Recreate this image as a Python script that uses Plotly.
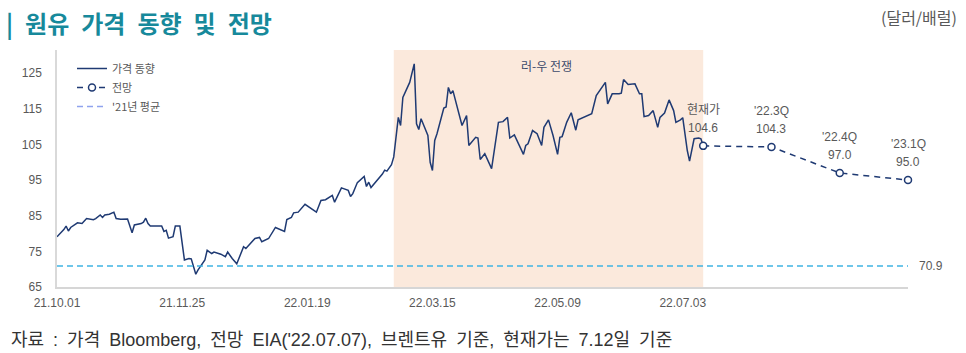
import plotly.graph_objects as go

# ---------------- data ----------------
price_dates = [
    "2021-10-01","2021-10-04","2021-10-05","2021-10-06","2021-10-07","2021-10-10","2021-10-12","2021-10-14",
    "2021-10-17","2021-10-18","2021-10-20","2021-10-21","2021-10-22","2021-10-24","2021-10-26","2021-10-27",
    "2021-10-29","2021-11-01","2021-11-03","2021-11-04","2021-11-07","2021-11-08","2021-11-09","2021-11-10",
    "2021-11-11","2021-11-14","2021-11-16","2021-11-17","2021-11-18","2021-11-19","2021-11-21","2021-11-22",
    "2021-11-24","2021-11-26","2021-11-28","2021-11-29","2021-12-01","2021-12-02","2021-12-03","2021-12-05",
    "2021-12-06","2021-12-08","2021-12-09","2021-12-12","2021-12-14","2021-12-15","2021-12-17","2021-12-19",
    "2021-12-22","2021-12-23","2021-12-27","2021-12-29","2021-12-30","2022-01-02","2022-01-05","2022-01-09",
    "2022-01-10","2022-01-12","2022-01-13","2022-01-15","2022-01-18","2022-01-23","2022-01-25","2022-01-27",
    "2022-01-30","2022-01-31","2022-02-03","2022-02-06","2022-02-07","2022-02-08","2022-02-10","2022-02-13",
    "2022-02-14","2022-02-15","2022-02-16","2022-02-19","2022-02-21","2022-02-22","2022-02-23","2022-02-25",
    "2022-02-26","2022-02-28","2022-03-01","2022-03-02","2022-03-05","2022-03-07","2022-03-08","2022-03-09",
    "2022-03-10","2022-03-13","2022-03-14","2022-03-15","2022-03-16","2022-03-17","2022-03-20","2022-03-21",
    "2022-03-22","2022-03-23","2022-03-24","2022-03-28","2022-03-30","2022-03-31","2022-04-03","2022-04-04",
    "2022-04-05","2022-04-07","2022-04-10","2022-04-13","2022-04-15","2022-04-17","2022-04-18","2022-04-20",
    "2022-04-24","2022-04-25","2022-04-26","2022-04-28","2022-04-30","2022-05-02","2022-05-03","2022-05-05",
    "2022-05-07","2022-05-09","2022-05-10","2022-05-11","2022-05-13","2022-05-15","2022-05-17","2022-05-18",
    "2022-05-21","2022-05-24","2022-05-26","2022-05-28","2022-05-30","2022-05-31","2022-06-02","2022-06-05",
    "2022-06-06","2022-06-07","2022-06-09","2022-06-12","2022-06-14","2022-06-15","2022-06-16","2022-06-18",
    "2022-06-20","2022-06-22","2022-06-23","2022-06-25","2022-06-27","2022-06-29","2022-06-30","2022-07-02",
    "2022-07-03","2022-07-05","2022-07-06","2022-07-08","2022-07-10","2022-07-11","2022-07-12",
]
price_values = [
    79.1, 81.1, 82.1, 80.7, 81.7, 83.0, 82.8, 84.2,
    83.9, 84.2, 85.2, 84.5, 85.2, 85.4, 86.0, 84.2,
    84.0, 84.1, 80.2, 82.4, 82.8, 83.2, 84.3, 82.8,
    82.1, 82.1, 82.1, 80.6, 80.9, 78.7, 79.1, 82.1,
    82.1, 72.6, 73.0, 72.9, 68.6, 69.8, 70.7, 72.6,
    75.3, 74.4, 74.8, 74.2, 73.5, 74.8, 73.0, 71.5,
    76.3, 75.8, 78.6, 78.9, 77.7, 78.6, 81.7, 80.6,
    83.9, 84.5, 85.8, 86.0, 88.2, 86.0, 89.3, 89.5,
    90.7, 88.8, 92.8, 92.1, 90.4, 91.2, 94.3, 96.0,
    93.2, 94.4, 92.9, 95.0, 96.7, 97.8, 97.5, 99.3,
    101.5, 112.6, 110.3, 118.2, 122.4, 127.6, 110.8, 109.2,
    112.2, 107.5, 100.0, 97.7, 106.1, 108.0, 115.2, 115.5,
    121.0, 119.2, 120.1, 110.3, 113.1, 104.7, 107.0, 106.8,
    100.8, 102.4, 98.2, 111.2, 111.4, 112.6, 106.8, 107.7,
    102.2, 104.7, 105.2, 108.9, 108.0, 104.7, 109.8, 111.9,
    107.5, 102.2, 107.0, 107.2, 111.2, 113.9, 109.0, 111.9,
    112.8, 113.6, 118.7, 120.5, 122.4, 116.4, 119.2, 119.2,
    119.4, 123.2, 121.8, 122.0, 119.2, 119.2, 112.8, 113.1,
    114.5, 109.8, 112.6, 113.8, 117.5, 114.5, 111.2, 111.9,
    112.5, 103.3, 100.3, 106.6, 106.8, 106.6, 104.6,
]

forecast_dates = ["2022-07-12", "2022-08-11", "2022-09-10", "2022-10-10"]
forecast_values = [104.6, 104.3, 97.0, 95.0]
forecast_labels = ["현재가", "'22.3Q", "'22.4Q", "'23.1Q"]

avg_2021 = 70.9

war_start = "2022-02-26"
war_end = "2022-07-12"

x_tick_vals = ["2021-10-01", "2021-11-25", "2022-01-19", "2022-03-15", "2022-05-09", "2022-07-03"]
x_tick_text = ["21.10.01", "21.11.25", "22.01.19", "22.03.15", "22.05.09", "22.07.03"]
y_tick_vals = [65, 75, 85, 95, 105, 115, 125]

# ---------------- layout geometry ----------------
W, H = 966, 353
L, R, T, B = 57, 58, 50, 66
PW, PH = W - L - R, H - T - B


def px(x):
    return (x - L) / PW


def py(y):
    return (H - B - y) / PH


NAVY = "#1f3a73"
GRAY = "#595959"
TEAL = "#17899b"
FONT = "Liberation Sans, Noto Sans CJK KR, sans-serif"
KFONT = "Noto Sans CJK KR, sans-serif"
SP = "\u2002"

fig = go.Figure()

fig.add_trace(go.Scatter(
    x=price_dates, y=price_values, mode="lines", name="가격 동향",
    line=dict(color=NAVY, width=1.5),
))
fig.add_trace(go.Scatter(
    x=forecast_dates, y=forecast_values, mode="lines+markers", name="전망",
    line=dict(color=NAVY, width=1.5, dash="6px,5px"),
    marker=dict(symbol="circle", size=7, color="white", line=dict(color=NAVY, width=1.5)),
    cliponaxis=False,
))
fig.add_trace(go.Scatter(
    x=[None], y=[None], mode="lines", name="'21년 평균",
    line=dict(color="#8fa3ee", width=1.5, dash="6px,4px"),
))

# war shading
fig.add_shape(type="rect", xref="x", yref="paper", x0=war_start, x1=war_end, y0=0, y1=1,
              fillcolor="#fbe9dc", line=dict(width=0), layer="below")
# 2021 average line
fig.add_shape(type="line", xref="paper", yref="y", x0=0, x1=1, y0=avg_2021, y1=avg_2021,
              line=dict(color="#3fb4e3", width=1.5, dash="6px,4px"), layer="above")

ann = []
# title
ann.append(dict(xref="paper", yref="paper", x=px(4), y=py(22), xanchor="left", yanchor="middle",
                text="<b>|" + SP + SP.join(["원유", "가격", "동향", "및", "전망"]) + "</b>", showarrow=False,
                font=dict(family=KFONT, size=24, color=TEAL)))
ann.append(dict(xref="paper", yref="paper", x=px(959), y=py(17), xanchor="right", yanchor="middle",
                text="(달러/배럴)", showarrow=False, font=dict(family=KFONT, size=16, color=GRAY)))
# source
src_words = ["자료", ":", "가격", "Bloomberg,", "전망", "EIA('22.07.07),", "브렌트유", "기준,",
             "현재가는", "7.12일", "기준"]
ann.append(dict(xref="paper", yref="paper", x=px(9), y=py(340), xanchor="left", yanchor="middle",
                text=SP.join(src_words),
                showarrow=False, font=dict(family=FONT, size=18, color="#333333")))
# war label
ann.append(dict(xref="x", yref="paper", x="2022-05-04", y=py(65), xanchor="center", yanchor="middle",
                text="러-우 전쟁", showarrow=False, font=dict(family=KFONT, size=12, color="#3d4b6b")))
# average label
ann.append(dict(xref="paper", yref="y", x=1, y=avg_2021, xanchor="left", yanchor="middle", xshift=9,
                text=f"{avg_2021:.1f}", showarrow=False, font=dict(family=FONT, size=12, color=GRAY)))
# forecast labels
for d, v, lab in zip(forecast_dates, forecast_values, forecast_labels):
    ann.append(dict(xref="x", yref="y", x=d, y=v, xanchor="center", yanchor="middle", yshift=36,
                    text=lab, showarrow=False, font=dict(family=FONT, size=12, color=GRAY)))
    ann.append(dict(xref="x", yref="y", x=d, y=v, xanchor="center", yanchor="middle", yshift=18,
                    text=f"{v:.1f}", showarrow=False, font=dict(family=FONT, size=12, color=GRAY)))

fig.update_layout(
    width=W, height=H,
    margin=dict(l=L, r=R, t=T, b=B, pad=0),
    paper_bgcolor="white", plot_bgcolor="white",
    font=dict(family=FONT, size=12, color=GRAY),
    showlegend=True,
    legend=dict(x=px(72), y=py(54), xanchor="left", yanchor="top",
                bgcolor="rgba(0,0,0,0)", borderwidth=0,
                font=dict(family=KFONT, size=11, color=GRAY),
                tracegroupgap=0, itemwidth=30),
    annotations=ann,
    xaxis=dict(
        type="date", range=["2021-10-01", "2022-10-10"],
        tickvals=x_tick_vals, ticktext=x_tick_text,
        showgrid=False, zeroline=False,
        showline=True, linecolor="#d6d6d6", linewidth=2,
        ticks="outside", ticklen=4, tickcolor="rgba(0,0,0,0)",
        tickfont=dict(family=FONT, size=12, color=GRAY),
    ),
    yaxis=dict(
        range=[65, 131.5], tickvals=y_tick_vals,
        showgrid=False, zeroline=False,
        showline=True, linecolor="#d9d9d9", linewidth=1.5,
        ticks="outside", ticklen=11, tickcolor="rgba(0,0,0,0)",
        tickfont=dict(family=FONT, size=12, color=GRAY),
    ),
)

fig.write_html("out.html")
